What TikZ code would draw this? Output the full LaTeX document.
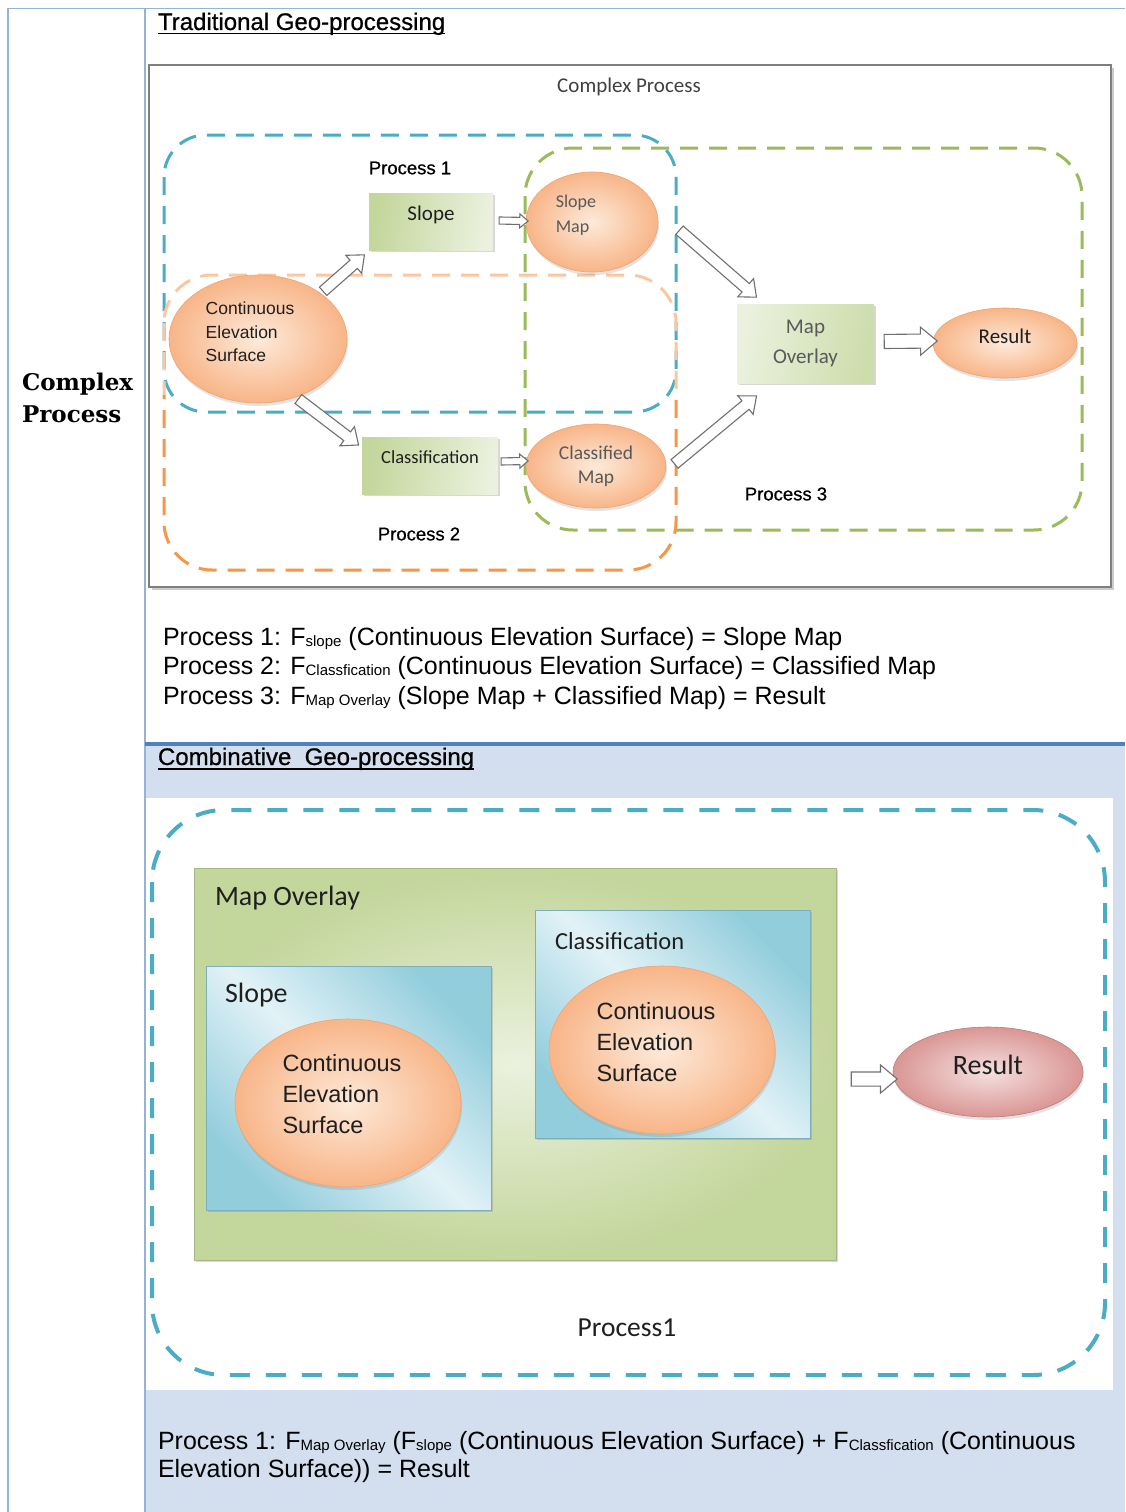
\documentclass[tikz,border=0pt]{standalone}
\usepackage{fontspec}
\usetikzlibrary{shapes.geometric,shapes.arrows,calc,shadows}

\newfontfamily\arial{Liberation Sans}
\newfontfamily\arialbd[FakeBold=0.7]{Liberation Sans}
\newfontfamily\calib{Carlito}
\newfontfamily\serifbd{DejaVu Serif}

\newcommand\fsz[2]{\fontsize{#1}{#2}\selectfont}
\newcommand\fsub[1]{\raisebox{-1pt}{\fsz{15}{15}#1}}

\definecolor{tblline}{HTML}{95B3D7}
\definecolor{tblthick}{HTML}{4F81BD}
\definecolor{tblfill}{HTML}{D3DFEE}
\definecolor{boxgray}{HTML}{7F7F7F}
\definecolor{dashblue}{HTML}{4BACC6}
\definecolor{dashgreen}{HTML}{9BBB59}
\definecolor{dashorange}{HTML}{F79646}
\definecolor{dashpeach}{HTML}{FAC7A0}
\definecolor{grnA}{HTML}{C3D69B}
\definecolor{grnB}{HTML}{EBF1DE}
\definecolor{bluA}{HTML}{92CDDC}
\definecolor{bluB}{HTML}{E2F2F7}
\definecolor{orA}{HTML}{F8B588}
\definecolor{orB}{HTML}{FDEADA}
\definecolor{orEdge}{HTML}{F2A36C}
\definecolor{rdA}{HTML}{DA9694}
\definecolor{rdB}{HTML}{F4E0DF}
\definecolor{txtdark}{HTML}{1F1F1F}
\definecolor{txtgray}{HTML}{595959}
\definecolor{arrowgray}{HTML}{707070}

% hollow block arrow laid between two named points
\newcommand\blockarrow[4]{%
  \path let \p1=(#1), \p2=(#2),
        \n1={atan2(\y2-\y1,\x2-\x1)},
        \n2={veclen(\x2-\x1,\y2-\y1)} in
    node[hollowarrow, inner ysep=#3, single arrow head extend=#4,
         minimum height=\n2, rotate=\n1] at ($(\p1)!0.5!(\p2)$) {};}

\begin{document}
\begin{tikzpicture}[x=1pt, y=-1pt,
  every node/.style={inner sep=0pt, outer sep=0pt},
  hollowarrow/.style={single arrow, draw=arrowgray, fill=white, line width=1.1pt,
    inner xsep=0pt, single arrow tip angle=80, anchor=center},
  boxshadow/.style={drop shadow={shadow xshift=1.5pt, shadow yshift=-2pt, opacity=0.3}},
  ellshadow/.style={drop shadow={shadow xshift=1pt, shadow yshift=-3pt, opacity=0.22}},
  gbox/.style={rectangle, left color=grnA, right color=grnB, shading angle=80, boxshadow,
    font=\calib\fsz{21}{30}, text=txtdark, align=center},
  gbigbox/.style={rectangle, inner color=grnB, outer color=grnA, draw=grnA!85!black,
    line width=0.6pt, boxshadow},
  bbox/.style={rectangle, top color=bluA, bottom color=bluA, middle color=bluB,
    shading angle=-45, draw=bluA!85!black, line width=0.6pt, boxshadow},
  oell/.style={ellipse, inner color=orB, outer color=orA, draw=orEdge, line width=0.6pt,
    ellshadow, text=txtdark},
  rell/.style={ellipse, inner color=rdB, outer color=rdA, draw=rdA!85!black, line width=0.6pt,
    ellshadow, text=txtdark},
  plbl/.style={font=\arialbd\fsz{18.5}{22}, text=black},
  dashbox/.style={line width=3pt, dash pattern=on 18pt off 11pt},
  formula/.style={anchor=base west, font=\arial\fsz{25}{29}, text=black},
  header/.style={anchor=base west, font=\arialbd\fsz{24}{28}, text=black}]

\useasboundingbox (0,0) rectangle (1125,1512);
\fill[white] (0,0) rectangle (1125,1512);

% ---- table frame ----
\fill[tblfill] (145,745) rectangle (1125,1512);
\fill[white] (146,798) rectangle (1113,1390);
\draw[tblline, line width=1.5pt] (8,1512) -- (8,8.5) -- (1125,8.5);
\draw[tblline, line width=1.5pt] (145,8) -- (145,1512);
\draw[tblthick, line width=4pt] (145,743.5) -- (1125,743.5);

\node[anchor=west, align=left, font=\serifbd\bfseries\fsz{23}{32}] (rowlbl) at (22,398) {Complex\\Process};

% ---- traditional geo-processing ----
\node[header] (hdrA) at (158,30) {Traditional Geo-processing};
\draw[line width=1.4pt] ($(hdrA.base west)+(0,3.5)$) -- ($(hdrA.base east)+(0,3.5)$);

\draw[boxgray!40, line width=1.5pt] (152,589) -- (1113,589) -- (1113,68);
\draw[boxgray, line width=1.5pt] (149,65) rectangle (1111,587);
\node[font=\calib\fsz{21}{24}, text=black!75] (cpx) at (629,87) {Complex Process};

% process outlines
\draw[dashblue, dashbox, rounded corners=42pt] (164,135) rectangle (676,412);
\begin{scope}
  \clip (0,0) rectangle (1125,395);
  \draw[dashpeach, dashbox, rounded corners=48pt] (164,275) rectangle (676,570);
\end{scope}
\begin{scope}
  \clip (0,395) rectangle (1125,600);
  \draw[dashorange, dashbox, rounded corners=48pt] (164,275) rectangle (676,570);
\end{scope}
\draw[dashgreen, dashbox, rounded corners=48pt] (525,148) rectangle (1082,530);

% nodes
\node[gbox, minimum width=124pt, minimum height=57pt, text depth=17pt] (slope) at (431,221.5) {Slope};
\node[gbox, minimum width=136pt, minimum height=57pt, font=\calib\fsz{18.5}{22}, text depth=16pt]
  (classif) at (430,465.5) {Classification};
\node[gbox, minimum width=137pt, minimum height=79pt, left color=grnB, right color=grnA!75!grnB,
      shading angle=80, text=txtgray] (mapov) at (805.5,343.5) {Map\\Overlay};
\node[oell, minimum width=178pt, minimum height=128pt] (ces) at (258,339) {};
\node[align=left, font=\arial\fsz{17.5}{23.5}, text=txtdark] (cestxt) at ($(ces)+(-8,-7)$)
  {Continuous\\Elevation\\Surface};
\node[oell, minimum width=132pt, minimum height=100pt] (slmap) at (592,222) {};
\node[align=left, font=\calib\fsz{18}{25}, text=txtgray] (slmaptxt) at ($(slmap)+(-16,-7)$) {Slope\\Map};
\node[oell, minimum width=140pt, minimum height=84pt, align=center, font=\calib\fsz{19.5}{24},
      text=txtgray] (clmap) at (596,466) {Classified\\Map};
\node[oell, minimum width=144pt, minimum height=70pt, font=\calib\fsz{21}{24}, text depth=14pt]
  (res) at (1005,343) {Result};

\node[plbl] (p1) at (410,168) {Process 1};
\node[plbl] (p2) at (419,534) {Process 2};
\node[plbl] (p3) at (786,494) {Process 3};

% connectors
\coordinate (a1s) at (ces.36);
\coordinate (a1e) at ($(slope.south west)+(-7,7)$);
\blockarrow{a1s}{a1e}{5pt}{6.5pt}
\coordinate (a2s) at (ces.-57);
\coordinate (a2e) at ($(classif.north west)+(-6,6)$);
\blockarrow{a2s}{a2e}{5pt}{6.5pt}
\coordinate (a3s) at ($(slope.east)+(4,-1)$);
\coordinate (a3e) at ($(slmap.west)+(0,-1)$);
\blockarrow{a3s}{a3e}{3pt}{3.5pt}
\coordinate (a4s) at ($(classif.east)+(1,-4)$);
\coordinate (a4e) at ($(clmap.west)+(0,-5)$);
\blockarrow{a4s}{a4e}{3pt}{3.5pt}
\coordinate (a5s) at ($(slmap.east)+(19,6)$);
\coordinate (a5e) at ($(mapov.north west)+(17,-9)$);
\blockarrow{a5s}{a5e}{5pt}{6.5pt}
\coordinate (a6s) at ($(clmap.east)+(6,0)$);
\coordinate (a6e) at ($(mapov.south west)+(17,15)$);
\blockarrow{a6s}{a6e}{5pt}{6.5pt}
\coordinate (a7s) at ($(mapov.east)+(6,-2)$);
\coordinate (a7e) at ($(res.west)+(0,-2)$);
\blockarrow{a7s}{a7e}{6.5pt}{7pt}

% formulas
\node[formula] (f1) at (163,645) {Process 1: F\fsub{slope} (Continuous Elevation Surface) = Slope Map};
\node[formula] (f2) at (163,674.5) {Process 2: F\fsub{Classfication} (Continuous Elevation Surface) = Classified Map};
\node[formula] (f3) at (163,704) {Process 3: F\fsub{Map Overlay} (Slope Map + Classified Map) = Result};

% ---- combinative geo-processing ----
\node[header] (hdrB) at (158,765) {Combinative\ \ Geo-processing};
\draw[line width=1.4pt] ($(hdrB.base west)+(0,4)$) -- ($(hdrB.base east)+(0,4)$);

\draw[dashblue, line width=4pt, dash pattern=on 20pt off 16pt, rounded corners=72pt]
  (152,810) rectangle (1105,1375);

\node[gbigbox, minimum width=642pt, minimum height=392pt] (mapbig) at (515,1064) {};
\node[anchor=west, font=\calib\fsz{28}{32}, text=txtdark] (mapbigtxt) at ($(mapbig.north west)+(21,30)$) {Map Overlay};
\node[bbox, minimum width=285pt, minimum height=244pt] (slopeB) at (348.5,1088) {};
\node[anchor=west, font=\calib\fsz{28}{32}, text=txtdark] (slopeBtxt) at ($(slopeB.north west)+(19,29)$) {Slope};
\node[bbox, minimum width=275pt, minimum height=228pt] (classB) at (672.5,1024) {};
\node[anchor=west, font=\calib\fsz{24.5}{28}, text=txtdark] (classBtxt) at ($(classB.north west)+(20,31)$) {Classification};
\node[oell, minimum width=226pt, minimum height=168pt] (cesB1) at (348,1103) {};
\node[align=left, font=\arial\fsz{23.5}{31}, text=txtdark] (cesB1txt) at ($(cesB1)+(-6,-9)$)
  {Continuous\\Elevation\\Surface};
\node[oell, minimum width=226pt, minimum height=168pt] (cesB2) at (662,1050) {};
\node[align=left, font=\arial\fsz{23.5}{31}, text=txtdark] (cesB2txt) at ($(cesB2)+(-6,-8)$)
  {Continuous\\Elevation\\Surface};
\node[rell, minimum width=190pt, minimum height=90pt, font=\calib\fsz{28}{32}, text depth=14pt]
  (resB) at (988,1072) {Result};

\coordinate (b1s) at ($(mapbig.east)+(11,15)$);
\coordinate (b1e) at ($(resB.west)+(0,7)$);
\blockarrow{b1s}{b1e}{6.5pt}{7pt}

\node[font=\calib\fsz{27.5}{30}, text=txtdark] (proc1B) at (627,1328) {Process1};

\node[formula] (fB1) at (158,1449)
  {Process 1: F\fsub{Map Overlay} (F\fsub{slope} (Continuous Elevation Surface) + F\fsub{Classfication} (Continuous};
\node[formula] (fB2) at (158,1477) {Elevation Surface)) = Result};
\end{tikzpicture}
\end{document}
